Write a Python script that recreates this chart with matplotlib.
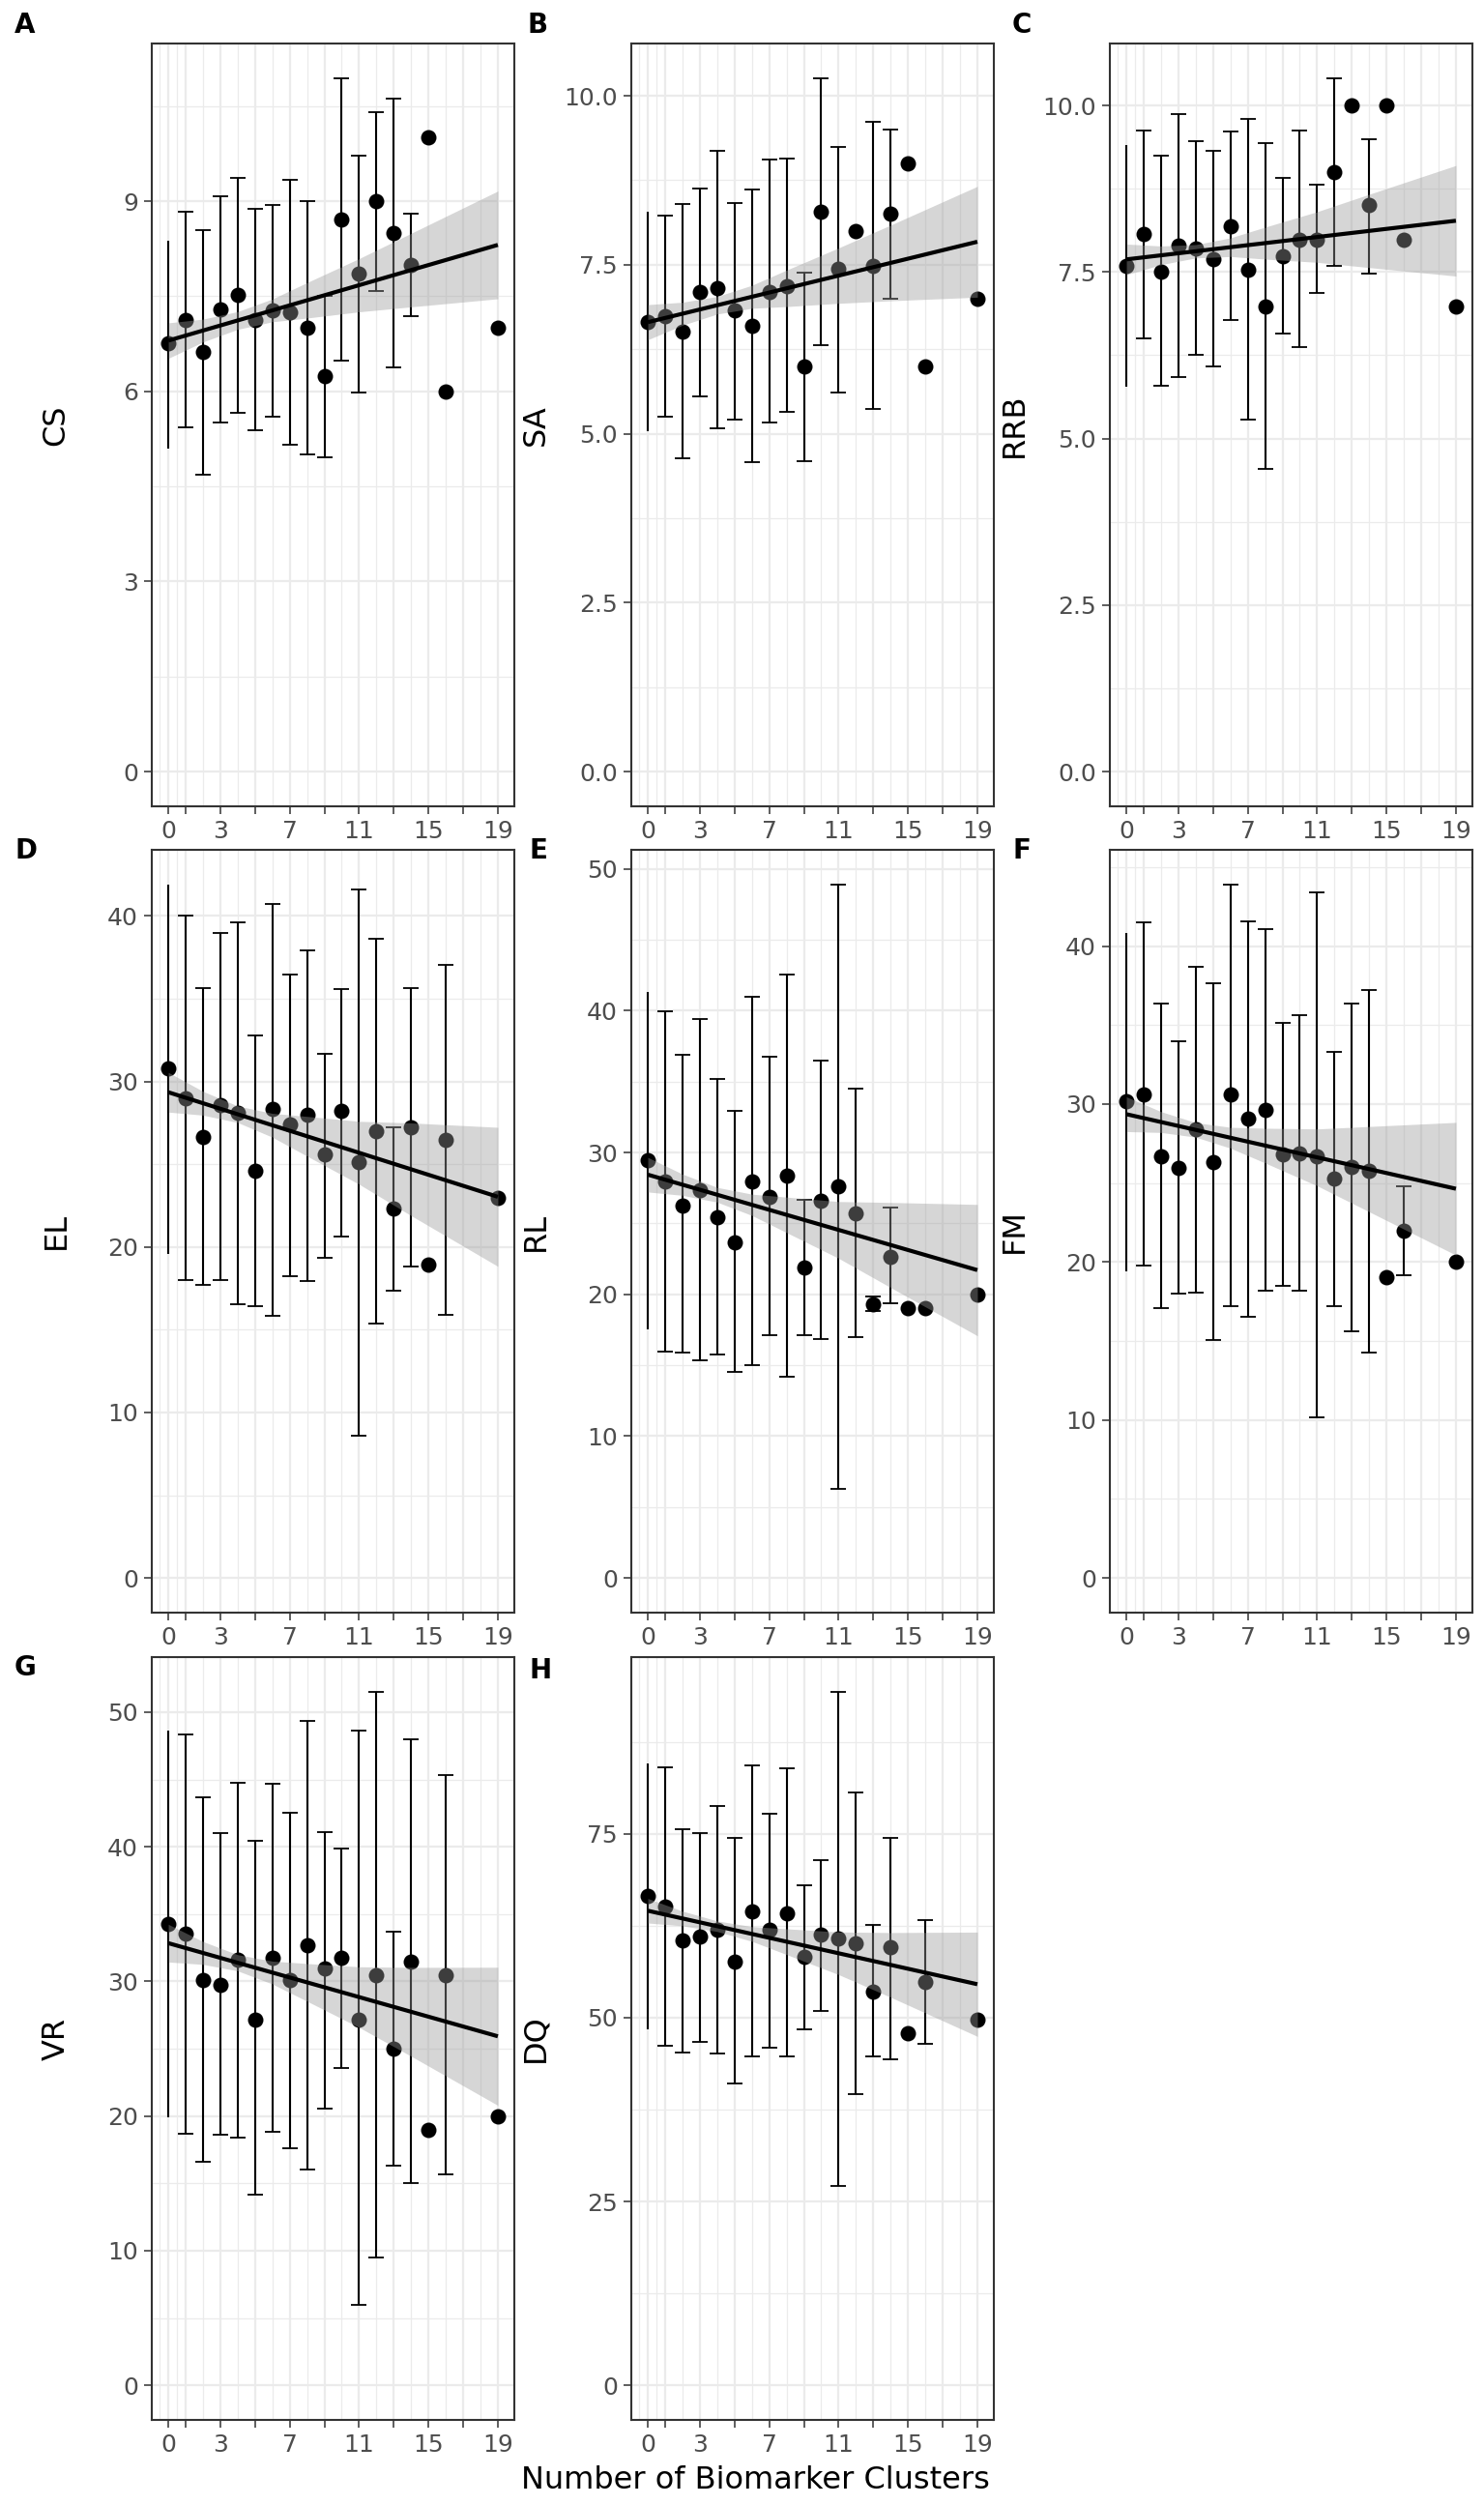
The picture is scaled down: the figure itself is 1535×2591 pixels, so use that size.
import numpy as np
import matplotlib
matplotlib.use("Agg")
import matplotlib.pyplot as plt
from matplotlib.ticker import FixedLocator, FixedFormatter, MultipleLocator, FormatStrFormatter

nan = np.nan

# number of biomarker clusters (x positions present in every panel)
clusters = [0, 1, 2, 3, 4, 5, 6, 7, 8, 9, 10, 11, 12, 13, 14, 15, 16, 19]

# CS
cs_mean = [6.76, 7.12, 6.62, 7.29, 7.52, 7.13, 7.28, 7.25, 7.00, 6.24, 8.71, 7.86, 9.00, 8.50, 8.00, 10.0, 6.0, 7.0]
cs_lo = [5.09, 5.43, 4.68, 5.51, 5.66, 5.39, 5.60, 5.16, 5.00, 4.96, 6.49, 5.98, 7.59, 6.38, 7.18, nan, nan, nan]
cs_hi = [8.38, 8.83, 8.55, 9.07, 9.37, 8.88, 8.94, 9.34, 9.00, 7.50, 10.94, 9.72, 10.41, 10.62, 8.81, nan, nan, nan]
cs_fit = [6.80, 8.31]
cs_band = [0.28, 0.18, 0.14, 0.18, 0.28, 0.42, 0.58, 0.85]

# SA
sa_mean = [6.66, 6.74, 6.51, 7.10, 7.16, 6.82, 6.60, 7.10, 7.18, 5.99, 8.29, 7.44, 8.00, 7.48, 8.25, 9.00, 5.99, 7.00]
sa_lo = [5.04, 5.25, 4.64, 5.55, 5.08, 5.21, 4.58, 5.16, 5.32, 4.59, 6.31, 5.61, nan, 5.37, 7.00, nan, nan, nan]
sa_hi = [8.29, 8.22, 8.40, 8.63, 9.18, 8.41, 8.62, 9.05, 9.07, 7.39, 10.26, 9.24, nan, 9.61, 9.50, nan, nan, nan]
sa_fit = [6.65, 7.84]
sa_band = [0.26, 0.17, 0.13, 0.17, 0.27, 0.41, 0.56, 0.82]

# RRB
rrb_mean = [7.59, 8.07, 7.50, 7.90, 7.86, 7.70, 8.19, 7.54, 6.99, 7.74, 7.99, 7.99, 9.00, 10.0, 8.50, 10.0, 7.99, 6.99]
rrb_lo = [5.78, 6.51, 5.80, 5.92, 6.25, 6.09, 6.78, 5.29, 4.55, 6.58, 6.37, 7.18, 7.59, nan, 7.48, nan, nan, nan]
rrb_hi = [9.40, 9.63, 9.24, 9.87, 9.47, 9.32, 9.61, 9.80, 9.44, 8.91, 9.62, 8.81, 10.41, nan, 9.49, nan, nan, nan]
rrb_fit = [7.69, 8.27]
rrb_band = [0.23, 0.14, 0.10, 0.14, 0.24, 0.38, 0.55, 0.83]

# EL
el_mean = [30.78, 29.0, 26.63, 28.58, 28.09, 24.6, 28.35, 27.38, 27.96, 25.57, 28.22, 25.11, 26.99, 22.3, 27.22, 18.93, 26.47, 22.98]
el_lo = [19.6, 18.0, 17.7, 18.0, 16.54, 16.41, 15.86, 18.22, 17.96, 19.32, 20.65, 8.61, 15.37, 17.38, 18.8, nan, 15.92, nan]
el_hi = [41.9, 40.0, 35.66, 39.0, 39.6, 32.78, 40.74, 36.47, 37.93, 31.68, 35.6, 41.6, 38.61, 27.25, 35.66, nan, 37.05, nan]
el_fit = [29.35, 23.03]
el_band = [1.2, 0.72, 0.5, 0.72, 1.2, 1.9, 2.8, 4.2]

# RL
rl_mean = [29.46, 27.98, 26.28, 27.38, 25.42, 23.64, 27.98, 26.85, 28.36, 21.9, 26.59, 27.6, 25.68, 19.3, 22.66, 19.0, 19.0, 20.0]
rl_lo = [17.56, 15.97, 15.90, 15.37, 15.79, 14.54, 14.99, 17.11, 14.16, 17.11, 16.84, 6.31, 16.96, 18.81, 19.34, nan, nan, nan]
rl_hi = [41.35, 39.95, 36.86, 39.43, 35.2, 32.93, 40.97, 36.74, 42.56, 26.66, 36.48, 48.9, 34.48, 19.86, 26.13, nan, nan, nan]
rl_fit = [28.44, 21.71]
rl_band = [1.22, 0.75, 0.52, 0.75, 1.25, 2.0, 3.0, 4.63]

# FM
fm_mean = [30.17, 30.61, 26.71, 25.97, 28.41, 26.34, 30.61, 29.05, 29.66, 26.81, 26.88, 26.71, 25.29, 26.03, 25.76, 19.02, 21.97, 20.03]
fm_lo = [19.42, 19.76, 17.08, 18.0, 18.07, 15.08, 17.22, 16.51, 18.17, 18.47, 18.17, 10.17, 17.22, 15.63, 14.24, nan, 19.19, nan]
fm_hi = [40.85, 41.49, 36.37, 33.97, 38.68, 37.63, 43.9, 41.56, 41.08, 35.15, 35.63, 43.39, 33.29, 36.37, 37.22, nan, 24.81, nan]
fm_fit = [29.36, 24.64]
fm_band = [1.1, 0.66, 0.46, 0.66, 1.1, 1.8, 2.7, 4.2]

# VR
vr_mean = [34.27, 33.54, 30.11, 29.71, 31.62, 27.14, 31.74, 30.11, 32.72, 30.93, 31.74, 27.14, 30.48, 24.98, 31.5, 18.99, 30.48, 19.97]
vr_lo = [19.93, 18.70, 16.63, 18.58, 18.38, 14.14, 18.79, 17.64, 16.01, 20.58, 23.55, 5.95, 9.49, 16.34, 15.0, nan, 15.65, nan]
vr_hi = [48.66, 48.33, 43.68, 41.03, 44.78, 40.42, 44.66, 42.54, 49.31, 41.12, 39.89, 48.61, 51.51, 33.70, 48.0, nan, 45.35, nan]
vr_fit = [32.84, 25.92]
vr_band = [1.4, 0.85, 0.6, 0.85, 1.4, 2.25, 3.3, 5.13]

# DQ
dq_mean = [66.57, 65.15, 60.52, 61.04, 62.01, 57.61, 64.48, 62.01, 64.25, 58.28, 61.27, 60.75, 60.15, 53.51, 59.55, 47.84, 54.85, 49.78]
dq_lo = [48.36, 46.12, 45.22, 46.72, 45.15, 41.04, 44.70, 45.97, 44.70, 48.36, 50.97, 27.09, 39.63, 44.70, 44.33, nan, 46.49, nan]
dq_hi = [84.63, 84.1, 75.6, 75.15, 78.73, 74.4, 84.33, 77.76, 83.96, 68.06, 71.42, 94.33, 80.67, 62.61, 74.48, nan, 63.28, nan]
dq_fit = [64.55, 54.55]
dq_band = [1.67, 1.0, 0.72, 1.0, 1.75, 2.9, 4.4, 7.09]

# x positions where the confidence band half-widths were read
band_x = [0, 2, 4, 6, 8, 11, 14, 19]

x_major = [0, 1, 3, 5, 7, 9, 11, 13, 15, 17, 19]
x_labels = ["0", "", "3", "", "7", "", "11", "", "15", "", "19"]
x_minor = [-0.5, 0.5, 2, 4, 6, 8, 10, 12, 14, 16, 18]

panels = [
    ("A", "CS", cs_mean, cs_lo, cs_hi, cs_fit, cs_band, 3, "%d"),
    ("B", "SA", sa_mean, sa_lo, sa_hi, sa_fit, sa_band, 2.5, "%.1f"),
    ("C", "RRB", rrb_mean, rrb_lo, rrb_hi, rrb_fit, rrb_band, 2.5, "%.1f"),
    ("D", "EL", el_mean, el_lo, el_hi, el_fit, el_band, 10, "%d"),
    ("E", "RL", rl_mean, rl_lo, rl_hi, rl_fit, rl_band, 10, "%d"),
    ("F", "FM", fm_mean, fm_lo, fm_hi, fm_fit, fm_band, 10, "%d"),
    ("G", "VR", vr_mean, vr_lo, vr_hi, vr_fit, vr_band, 10, "%d"),
    ("H", "DQ", dq_mean, dq_lo, dq_hi, dq_fit, dq_band, 25, "%d"),
]

W, H = 1535, 2591
fig = plt.figure(figsize=(W / 100, H / 100), dpi=100)

col_left = [157, 653, 1148]
row_top = [45, 879, 1714]
pw, ph = 375, 789
letter_pos = [(15, 12), (545, 12), (1047, 12),
              (15, 866), (547, 866), (1047, 866),
              (15, 1711), (547, 1714)]

border = "#333333"
grid_c = "#EBEBEB"

for i, (letter, name, mean, lo, hi, fit, band, step, fmt) in enumerate(panels):
    left = col_left[i % 3]
    top = row_top[i // 3]
    ax = fig.add_axes([left / W, 1 - (top + ph) / H, pw / W, ph / H])

    x = np.array(clusters, dtype=float)
    m = np.array(mean)
    l = np.array(lo)
    h = np.array(hi)

    # fitted line and its confidence band
    bx = np.array(band_x, dtype=float)
    line_at = fit[0] + (fit[1] - fit[0]) * bx / 19.0
    b_lo = line_at - np.array(band)
    b_hi = line_at + np.array(band)

    ax.plot(x, m, "o", color="black", ms=11.5, mew=0, zorder=3)

    has = ~np.isnan(l)
    capped = has & (x > 0)
    uncapped = has & (x == 0)
    ax.errorbar(x[capped], m[capped], yerr=[m[capped] - l[capped], h[capped] - m[capped]],
                fmt="none", ecolor="black", elinewidth=1.5, capsize=6, capthick=1.3, zorder=3)
    ax.errorbar(x[uncapped], m[uncapped], yerr=[m[uncapped] - l[uncapped], h[uncapped] - m[uncapped]],
                fmt="none", ecolor="black", elinewidth=1.5, capsize=0, zorder=3)

    ax.fill_between(bx, b_lo, b_hi, color="#999999", alpha=0.4, lw=0, zorder=4)
    ax.plot([0, 19], fit, color="black", lw=3, solid_capstyle="butt", zorder=5)

    ymax = np.nanmax(np.concatenate([m, h, b_hi]))
    ax.set_ylim(-0.05 * ymax, 1.05 * ymax)
    ax.set_xlim(-0.95, 19.95)

    ax.xaxis.set_major_locator(FixedLocator(x_major))
    ax.xaxis.set_major_formatter(FixedFormatter(x_labels))
    ax.xaxis.set_minor_locator(FixedLocator(x_minor))
    ax.yaxis.set_major_locator(MultipleLocator(step))
    ax.yaxis.set_minor_locator(MultipleLocator(step / 2))
    ax.yaxis.set_major_formatter(FormatStrFormatter(fmt))

    ax.set_axisbelow(True)
    ax.grid(which="major", color=grid_c, lw=1.6)
    ax.grid(which="minor", color=grid_c, lw=0.9)
    ax.tick_params(which="major", length=6, width=1.1, color=border,
                   labelsize=18, labelcolor="#4D4D4D", pad=4)
    ax.tick_params(which="minor", length=0)
    for sp in ax.spines.values():
        sp.set_color(border)
        sp.set_linewidth(1.5)

    fig.text((left - 99) / W, 1 - (top + ph / 2) / H, name, rotation=90,
             ha="center", va="center", fontsize=23, color="black")
    lx, ly = letter_pos[i]
    fig.text(lx / W, 1 - ly / H, letter, ha="left", va="top",
             fontsize=20, fontweight="bold", color="black")

fig.text(781 / W, 1 - 2566 / H, "Number of Biomarker Clusters",
         ha="center", va="center", fontsize=23, color="black")

fig.savefig("out.png", dpi=100)
